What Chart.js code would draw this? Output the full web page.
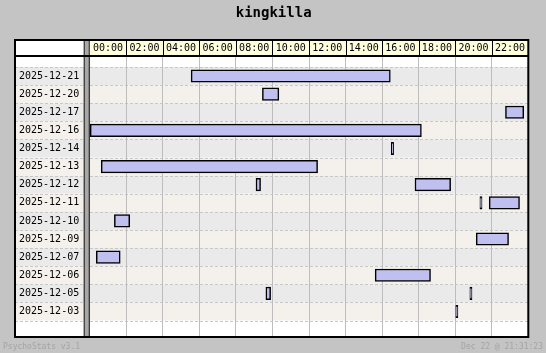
<!DOCTYPE html>
<html>
<head>
<meta charset="utf-8">
<script src="https://cdn.jsdelivr.net/npm/chart.js@4/dist/chart.umd.min.js"></script>
<style>
  html, body { margin: 0; padding: 0; background: #c4c4c4; }
  #wrap { width: 546px; height: 353px; }
</style>
</head>
<body>
<div id="wrap"><canvas id="sessions"></canvas></div>
<script>
// days shown, top to bottom
const days = ['2025-12-21', '2025-12-20', '2025-12-17', '2025-12-16', '2025-12-14', '2025-12-13',
    '2025-12-12', '2025-12-11', '2025-12-10', '2025-12-09', '2025-12-07', '2025-12-06',
    '2025-12-05', '2025-12-03'];

// online sessions (hour of day)
const sessionDay   = ['2025-12-21', '2025-12-20', '2025-12-17', '2025-12-16', '2025-12-14', '2025-12-13',
    '2025-12-12', '2025-12-12', '2025-12-11', '2025-12-11', '2025-12-10', '2025-12-09',
    '2025-12-07', '2025-12-06', '2025-12-05', '2025-12-05', '2025-12-03'];
const sessionStart = [5.55, 9.45, 22.75, 0.0, 16.5, 0.63, 9.1, 17.8, 21.35, 21.86, 1.35, 21.15, 0.36, 15.62, 9.64, 20.8, 20.03];
const sessionEnd   = [16.45, 10.35, 23.75, 18.15, 16.63, 12.47, 9.35, 19.75, 21.47, 23.52, 2.19, 22.92, 1.67, 18.65, 9.9, 20.92, 20.15];

// header labels, one per 2h cell
const hourLabels = ['00:00', '02:00', '04:00', '06:00', '08:00', '10:00', '12:00', '14:00', '16:00', '18:00', '20:00', '22:00'];

const MONO = 'DejaVu Sans Mono';
const FRAME_LEFT = 15;
const FRAME_TOP = 40;

const framePlugin = {
    id: 'frame',
    beforeDraw(chart) {
        const { ctx, chartArea: a, scales: { x, y } } = chart;
        ctx.save();
        ctx.fillStyle = '#c4c4c4';
        ctx.fillRect(0, 0, chart.width, chart.height);
        ctx.fillStyle = '#ffffff';
        ctx.fillRect(FRAME_LEFT, FRAME_TOP, a.right - FRAME_LEFT, a.bottom - FRAME_TOP);
        // header cells
        ctx.fillStyle = '#ffffdd';
        ctx.fillRect(a.left, FRAME_TOP, a.right - a.left, a.top - FRAME_TOP);
        // row bands
        days.forEach((d, i) => {
            const y0 = y.getPixelForValue(i - 0.5);
            const y1 = y.getPixelForValue(i + 0.5);
            ctx.fillStyle = i % 2 ? '#f4f1ec' : '#eaeaea';
            ctx.fillRect(FRAME_LEFT, y0, a.right - FRAME_LEFT, y1 - y0);
        });
        // dashed row separators
        ctx.strokeStyle = '#c8c8c8';
        ctx.lineWidth = 1;
        ctx.setLineDash([3, 2]);
        for (let i = 0; i <= days.length; i++) {
            const yy = Math.round(y.getPixelForValue(i - 0.5)) + 0.5;
            ctx.beginPath();
            ctx.moveTo(FRAME_LEFT, yy);
            ctx.lineTo(a.right, yy);
            ctx.stroke();
        }
        ctx.restore();
    },
    afterDraw(chart) {
        const { ctx, chartArea: a, scales: { x } } = chart;
        ctx.save();
        ctx.strokeStyle = '#000';
        // header separators
        ctx.lineWidth = 1;
        for (let h = 2; h < 24; h += 2) {
            const xx = Math.round(x.getPixelForValue(h)) + 0.5;
            ctx.beginPath();
            ctx.moveTo(xx, FRAME_TOP);
            ctx.lineTo(xx, a.top);
            ctx.stroke();
        }
        // label column separator (double line)
        ctx.fillStyle = '#a8a8a8';
        ctx.fillRect(a.left - 5, FRAME_TOP, 4, a.bottom - FRAME_TOP);
        ctx.beginPath();
        ctx.moveTo(a.left - 5.5, FRAME_TOP);
        ctx.lineTo(a.left - 5.5, a.bottom);
        ctx.moveTo(a.left - 0.5, FRAME_TOP);
        ctx.lineTo(a.left - 0.5, a.bottom);
        ctx.stroke();
        // header bottom
        ctx.lineWidth = 2;
        ctx.beginPath();
        ctx.moveTo(FRAME_LEFT, a.top - 1);
        ctx.lineTo(a.right, a.top - 1);
        ctx.stroke();
        // outer border
        ctx.lineWidth = 2;
        ctx.strokeRect(FRAME_LEFT, FRAME_TOP, a.right - FRAME_LEFT, a.bottom - FRAME_TOP);
        // footer
        ctx.font = '8px ' + MONO;
        ctx.fillStyle = '#a4a4a4';
        ctx.textBaseline = 'middle';
        ctx.textAlign = 'left';
        ctx.fillText('PsychoStats v3.1', 3, 347);
        ctx.textAlign = 'right';
        ctx.fillText('Dec 22 @ 21:31:23', 543, 347);
        ctx.restore();
    }
};

new Chart(document.getElementById('sessions'), {
    type: 'bar',
    data: {
        datasets: [{
            data: sessionDay.map((d, i) => ({ x: [sessionStart[i], sessionEnd[i]], y: days.indexOf(d) })),
            backgroundColor: '#c0c0f0',
            borderColor: '#000000',
            borderWidth: 1.5,
            borderSkipped: false,
            barThickness: 12.5
        }]
    },
    options: {
        indexAxis: 'y',
        responsive: true,
        maintainAspectRatio: false,
        animation: false,
        layout: { padding: { left: 19, right: 17.7, bottom: 16, top: 0 } },
        plugins: {
            legend: { display: false },
            tooltip: { enabled: false },
            title: {
                display: true,
                text: 'kingkilla',
                color: '#000',
                font: { family: MONO, size: 14, weight: 'bold' },
                padding: { top: 4.6, bottom: 18.6 }
            }
        },
        scales: {
            x: {
                type: 'linear',
                position: 'top',
                min: 0,
                max: 24,
                offset: false,
                afterBuildTicks: s => { s.ticks = Array.from({ length: 25 }, (_, h) => ({ value: h })); },
                afterFit: s => { s.height = 17; },
                ticks: {
                    autoSkip: false,
                    maxRotation: 0,
                    padding: 2.5,
                    color: '#000',
                    font: { family: MONO, size: 10 },
                    callback: v => (v % 2 === 1 ? hourLabels[(v - 1) / 2] : '')
                },
                grid: {
                    drawTicks: false,
                    offset: false,
                    color: c => (c.tick && c.tick.value % 2 === 0 ? '#bdbdbd' : 'rgba(0,0,0,0)')
                },
                border: { display: false }
            },
            y: {
                type: 'linear',
                reverse: true,
                offset: false,
                min: -1.05,
                max: 14.41,
                afterBuildTicks: s => { s.ticks = days.map((d, i) => ({ value: i })); },
                afterFit: s => { s.width = 70.7; },
                ticks: {
                    autoSkip: false,
                    crossAlign: 'far',
                    color: '#000',
                    font: { family: MONO, size: 10 },
                    callback: v => days[v]
                },
                grid: { display: false, offset: false },
                border: { display: false }
            }
        }
    },
    plugins: [framePlugin]
});
</script>
</body>
</html>
